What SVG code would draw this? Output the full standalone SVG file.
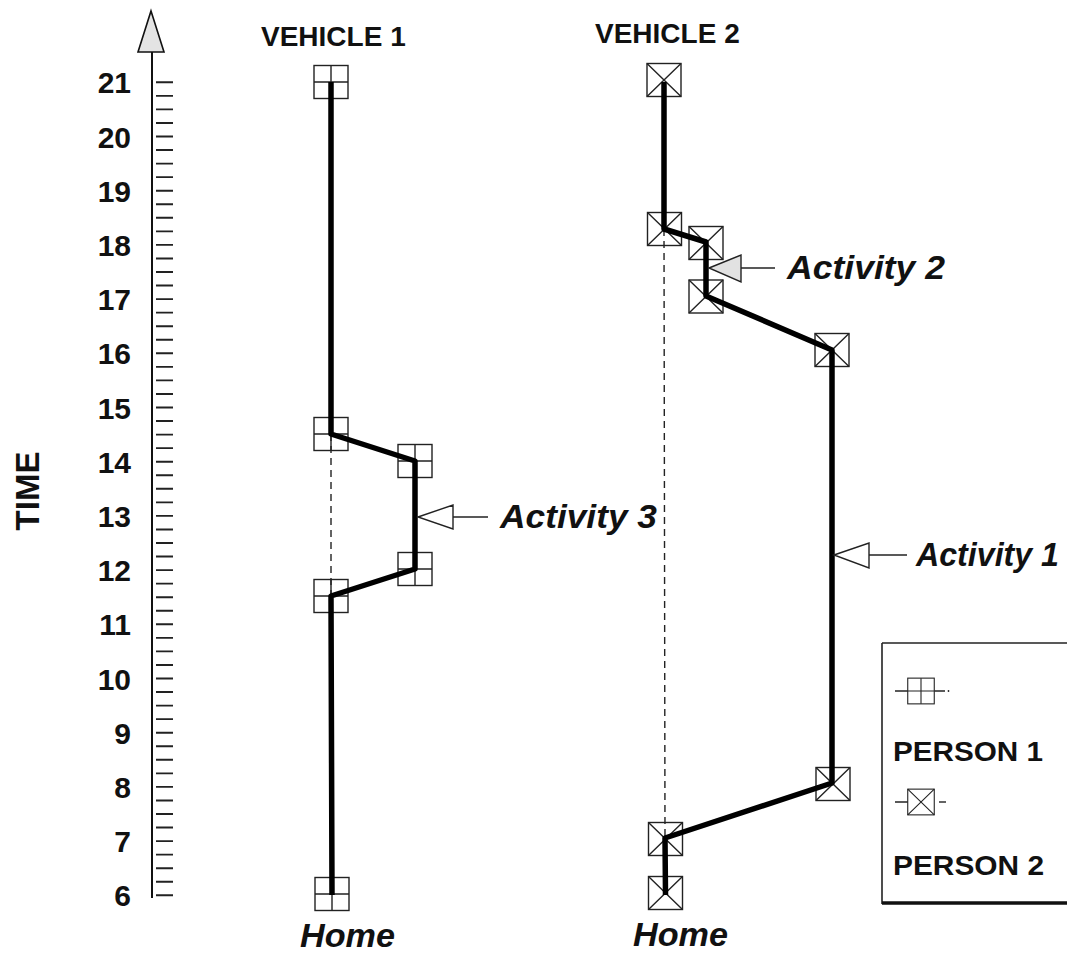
<svg xmlns="http://www.w3.org/2000/svg" xmlns:xlink="http://www.w3.org/1999/xlink" width="1067" height="959" viewBox="0 0 1067 959">
<style>
.num{font-family:"Liberation Sans",Arial,sans-serif;font-weight:bold;font-size:30px;fill:#111;text-anchor:end}
.hdr{font-family:"Liberation Sans",Arial,sans-serif;font-weight:bold;font-size:28px;fill:#111}
.ital{font-family:"Liberation Sans",Arial,sans-serif;font-weight:bold;font-style:italic;font-size:33px;fill:#111}
.leg{font-family:"Liberation Sans",Arial,sans-serif;font-weight:bold;font-size:28px;fill:#111}
.tick{stroke:#222;stroke-width:1.9}
.axis{stroke:#111;stroke-width:2;fill:none}
.route{stroke:#000;stroke-width:5.5;fill:none;stroke-linejoin:round}
.dash{stroke:#222;stroke-width:1.4;stroke-dasharray:7 5;fill:none}
.mk{fill:#fff;stroke:#222;stroke-width:1.4}
.thin{stroke:#222;stroke-width:1.4;fill:none}
.tri{stroke:#222;stroke-width:1.4}
</style>
<defs>
<g id="p1">
<rect class="mk" x="-17" y="-16.5" width="34" height="33"/>
<path class="thin" d="M0 -16.5V16.5M-17 0H17"/>
</g>
<g id="p2">
<rect class="mk" x="-17" y="-16.5" width="34" height="33"/>
<path class="thin" d="M-17 -16.5L17 16.5M17 -16.5L-17 16.5"/>
</g>
</defs>
<rect width="1067" height="959" fill="#fff"/>

<g id="axis">
<line class="axis" x1="152" y1="50" x2="152" y2="898"/>
<polygon points="151,11 164,52 138,52" fill="#e4e4e4" stroke="#111" stroke-width="1.6"/>
<path class="tick" d="M156 895.3h17M156 881.75h17M156 868.2h17M156 854.65h17M156 841.1h17M156 827.55h17M156 814h17M156 800.45h17M156 786.9h17M156 773.35h17M156 759.8h17M156 746.25h17M156 732.7h17M156 719.15h17M156 705.6h17M156 692.05h17M156 678.5h17M156 664.95h17M156 651.4h17M156 637.85h17M156 624.3h17M156 610.75h17M156 597.2h17M156 583.65h17M156 570.1h17M156 556.55h17M156 543h17M156 529.45h17M156 515.9h17M156 502.35h17M156 488.8h17M156 475.25h17M156 461.7h17M156 448.15h17M156 434.6h17M156 421.05h17M156 407.5h17M156 393.95h17M156 380.4h17M156 366.85h17M156 353.3h17M156 339.75h17M156 326.2h17M156 312.65h17M156 299.1h17M156 285.55h17M156 272h17M156 258.45h17M156 244.9h17M156 231.35h17M156 217.8h17M156 204.25h17M156 190.7h17M156 177.15h17M156 163.6h17M156 150.05h17M156 136.5h17M156 122.95h17M156 109.4h17M156 95.85h17M156 82.3h17"/>
<text class="num" x="131" y="906">6</text>
<text class="num" x="131" y="852">7</text>
<text class="num" x="131" y="798">8</text>
<text class="num" x="131" y="744">9</text>
<text class="num" x="131" y="690">10</text>
<text class="num" x="131" y="635">11</text>
<text class="num" x="131" y="581">12</text>
<text class="num" x="131" y="527">13</text>
<text class="num" x="131" y="473">14</text>
<text class="num" x="131" y="419">15</text>
<text class="num" x="131" y="364">16</text>
<text class="num" x="131" y="310">17</text>
<text class="num" x="131" y="256">18</text>
<text class="num" x="131" y="202">19</text>
<text class="num" x="131" y="148">20</text>
<text class="num" x="131" y="93">21</text>
<text transform="translate(39,491) rotate(-90)" text-anchor="middle" style="font-family:'Liberation Sans',Arial,sans-serif;font-weight:bold;font-size:33px;fill:#111">TIME</text>
</g>

<g id="headers">
<text class="hdr" x="261" y="46">VEHICLE 1</text>
<text class="hdr" x="595" y="43">VEHICLE 2</text>
<text class="ital" x="300" y="947" textLength="95" lengthAdjust="spacingAndGlyphs">Home</text>
<text class="ital" x="633" y="946" textLength="95" lengthAdjust="spacingAndGlyphs">Home</text>
</g>

<g id="v1-markers">
<g id="v1-n21"><use xlink:href="#p1" x="331" y="82"/></g>
<g id="v1-n145"><use xlink:href="#p1" x="331" y="434"/></g>
<g id="v1-n14"><use xlink:href="#p1" x="415" y="461"/></g>
<g id="v1-n12"><use xlink:href="#p1" x="415" y="569"/></g>
<g id="v1-n115"><use xlink:href="#p1" x="331" y="596"/></g>
<g id="v1-n6"><use xlink:href="#p1" x="332" y="894"/></g>
</g>
<g id="v2-markers">
<g id="v2-n21"><use xlink:href="#p2" x="664" y="80"/></g>
<g id="v2-n183"><use xlink:href="#p2" x="664.5" y="229"/></g>
<g id="v2-n18"><use xlink:href="#p2" x="706" y="243"/></g>
<g id="v2-n17"><use xlink:href="#p2" x="706" y="296.5"/></g>
<g id="v2-n16"><use xlink:href="#p2" x="832" y="350"/></g>
<g id="v2-n8"><use xlink:href="#p2" x="833" y="784"/></g>
<g id="v2-n7"><use xlink:href="#p2" x="665.5" y="839"/></g>
<g id="v2-n6"><use xlink:href="#p2" x="665.5" y="893"/></g>
</g>

<g id="connectors">
<path class="dash" d="M331 434V596"/>
<path class="dash" d="M664 229L665 838"/>
<path class="route" d="M331 82L331 434L415 461L415 569L331 596L332 895"/>
<path class="route" d="M664 82L664 229L706 242L706 296L832 350L832 783L665 838L665.5 895"/>
</g>

<g id="activity3">
<polygon class="tri" points="418,517 453,505 453,529" fill="#fff"/>
<line class="thin" x1="453" y1="517" x2="488" y2="517"/>
<text class="ital" x="500" y="528" textLength="157" lengthAdjust="spacingAndGlyphs">Activity 3</text>
</g>
<g id="activity2">
<polygon class="tri" points="709,268 741,255 741,282" fill="#e2e2e2"/>
<line class="thin" x1="741" y1="268" x2="775" y2="268"/>
<text class="ital" x="787" y="279" textLength="158" lengthAdjust="spacingAndGlyphs">Activity 2</text>
</g>
<g id="activity1">
<polygon class="tri" points="834,555 869,543 869,568" fill="#fff"/>
<line class="thin" x1="869" y1="555" x2="907" y2="555"/>
<text class="ital" x="916" y="566" textLength="143" lengthAdjust="spacingAndGlyphs">Activity 1</text>
</g>

<g id="legend">
<path d="M882 643H1067" stroke="#222" stroke-width="1.6" fill="none"/>
<path d="M882 643V904" stroke="#222" stroke-width="1.6" fill="none"/>
<path d="M882 903H1067" stroke="#111" stroke-width="3.5" fill="none"/>
<line class="thin" x1="895" y1="691" x2="945" y2="691"/>
<circle cx="948.5" cy="691" r="0.9" fill="#222"/>
<use xlink:href="#p1" transform="translate(921,691) scale(0.78)"/>
<line class="thin" x1="895" y1="802" x2="934" y2="802"/>
<line class="thin" x1="939" y1="802" x2="946" y2="802"/>
<use xlink:href="#p2" transform="translate(921,802) scale(0.78)"/>
<text class="leg" x="893" y="761" textLength="150" lengthAdjust="spacingAndGlyphs">PERSON 1</text>
<text class="leg" x="893" y="875" textLength="151" lengthAdjust="spacingAndGlyphs">PERSON 2</text>
</g>
</svg>
